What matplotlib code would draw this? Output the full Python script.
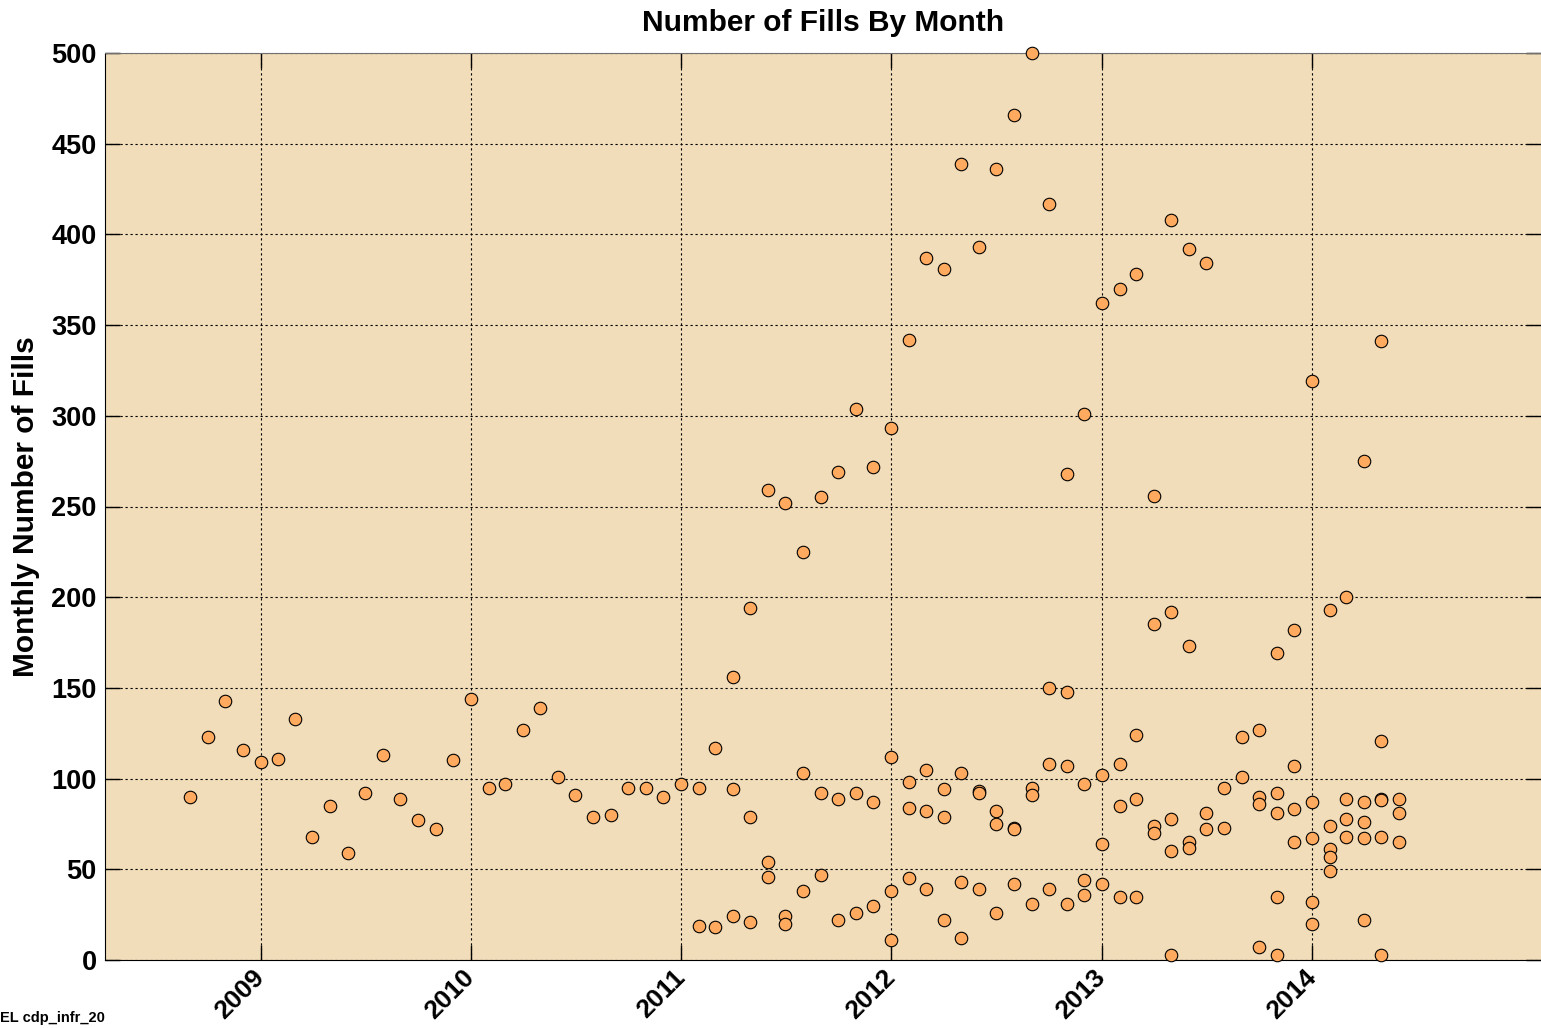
import numpy as np
import matplotlib.pyplot as plt
import matplotlib.dates as mdates

## Monthly fill counts (several values per month) ##
months = [
    "2008-09", "2008-10", "2008-11", "2008-12",
    "2009-01", "2009-02", "2009-03", "2009-04", "2009-05", "2009-06",
    "2009-07", "2009-08", "2009-09", "2009-10", "2009-11", "2009-12",
    "2010-01", "2010-02", "2010-03", "2010-04", "2010-05", "2010-06",
    "2010-07", "2010-08", "2010-09", "2010-10", "2010-11", "2010-12",
    "2011-01", "2011-02", "2011-03", "2011-04", "2011-05", "2011-06",
    "2011-07", "2011-08", "2011-09", "2011-10", "2011-11", "2011-12",
    "2012-01", "2012-02", "2012-03", "2012-04", "2012-05", "2012-06",
    "2012-07", "2012-08", "2012-09", "2012-10", "2012-11", "2012-12",
    "2013-01", "2013-02", "2013-03", "2013-04", "2013-05", "2013-06",
    "2013-07", "2013-08", "2013-09", "2013-10", "2013-11", "2013-12",
    "2014-01", "2014-02", "2014-03", "2014-04", "2014-05", "2014-06",
]
fills = [
    [90], [123], [143], [116],
    [109], [111], [133], [68], [85], [59],
    [92], [113], [89], [77], [72], [110],
    [144], [95], [97], [127], [139], [101],
    [91], [79], [80], [95], [95], [90],
    [97], [95, 19], [117, 18], [156, 94, 24], [194, 79, 21], [259, 54, 46],
    [252, 24, 20], [225, 103, 38], [255, 92, 47], [269, 89, 22], [304, 92, 26], [272, 87, 30],
    [293, 112, 38, 11], [342, 98, 84, 45], [387, 105, 82, 39], [381, 94, 79, 22],
    [439, 103, 43, 12], [393, 93, 92, 39],
    [436, 82, 75, 26], [466, 73, 72, 42], [500, 95, 91, 31], [417, 150, 108, 39],
    [268, 148, 107, 31], [301, 97, 44, 36],
    [362, 102, 64, 42], [370, 108, 85, 35], [378, 124, 89, 35], [256, 185, 74, 70],
    [408, 192, 78, 60, 3], [392, 173, 65, 62],
    [384, 81, 72], [95, 73], [123, 101], [127, 90, 86, 7],
    [169, 92, 81, 35, 3], [182, 107, 83, 65],
    [319, 87, 67, 32, 20], [193, 74, 61, 57, 49], [200, 89, 78, 68],
    [275, 87, 76, 67, 22], [341, 121, 89, 88, 68, 3], [89, 81, 65],
]
year_ticks = ["2009", "2010", "2011", "2012", "2013", "2014"]
y_ticks = list(range(0, 501, 50))

## Flatten to points ##
x = []
y = []
for m, vals in zip(months, fills):
    for v in vals:
        x.append(np.datetime64(m + "-01"))
        y.append(v)

font = "Liberation Sans"

fig = plt.figure(figsize=(15.41, 10.28), dpi=100)
ax = fig.add_axes([105 / 1541, 1 - 960 / 1028, 1436 / 1541, 907 / 1028])
ax.set_facecolor("#F2DDBA")

ax.plot(x, y, linestyle="none", marker="o", markersize=9,
        markerfacecolor="#FFAA5E", markeredgecolor="black",
        markeredgewidth=0.8, clip_on=False, zorder=3)

## Axes ##
ax.set_xlim(np.datetime64("2008-04-06"), np.datetime64("2015-02-02"))
ax.set_ylim(0, 500)
ax.set_yticks(y_ticks)
ax.set_yticklabels([str(t) for t in y_ticks], fontsize=19.5,
                   fontweight="bold", family=font)
ax.set_xticks([np.datetime64(t + "-01-01") for t in year_ticks])
ax.set_xticklabels(year_ticks, fontsize=19, fontweight="bold",
                   family=font, rotation=45, ha="right", va="center",
                   rotation_mode="anchor")
ax.tick_params(direction="in", length=11, width=1, top=True, right=True,
               pad=6)
ax.tick_params(axis="x", pad=10)

ax.grid(True, color="black", linestyle=(0, (2, 2.5)), linewidth=0.8)
ax.set_axisbelow(True)
ax.spines["top"].set_color("#707070")
ax.spines["right"].set_visible(False)

## Labels ##
ax.set_title("Number of Fills By Month", fontsize=21.5, fontweight="bold",
             family=font, pad=16)
ax.set_ylabel("Monthly Number of Fills", fontsize=21.5, fontweight="bold",
              family=font, labelpad=8)
fig.text(0, 3 / 1028, "EL cdp_infr_20", fontsize=10.5, fontweight="bold",
         family=font, ha="left", va="bottom")

plt.savefig("out.png", dpi=100)
